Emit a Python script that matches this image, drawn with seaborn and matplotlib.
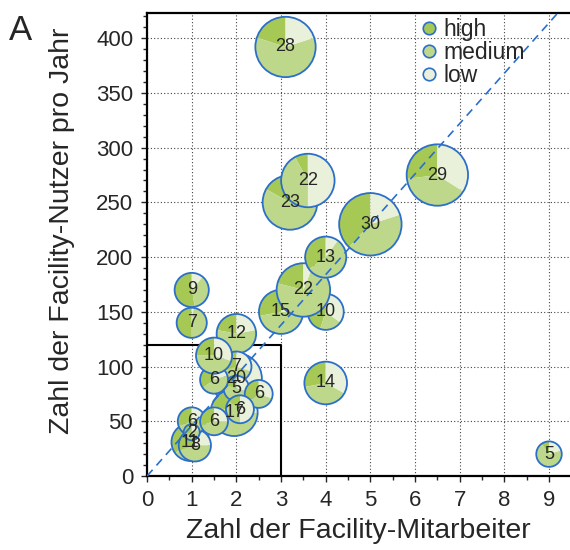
import matplotlib
matplotlib.use("Agg")
import numpy as np
import matplotlib.pyplot as plt
import matplotlib.transforms as mtransforms
from matplotlib.patches import Wedge, Circle
from matplotlib.lines import Line2D
from matplotlib.ticker import MultipleLocator
import seaborn as sns

# one bubble per facility, listed in drawing order (back to front)
staff = [3.1, 3.2, 3.6, 5.0, 6.5, 3.0, 4.0, 3.5, 4.0, 4.0, 1.0, 1.0, 2.0,
         2.0, 1.95, 2.0, 2.0, 2.5, 2.08, 1.5, 1.5, 0.97, 1.07, 1.0, 1.0, 1.5, 9.0]
users = [392, 250, 270, 230, 275, 150, 150, 170, 200, 85, 170, 140, 130,
         89, 58, 100, 80, 75, 61, 88, 110, 31, 28, 50, 40, 50, 20]
counts = [28, 23, 22, 30, 29, 15, 10, 22, 13, 14, 9, 7, 12,
          20, 17, 7, 5, 6, 6, 6, 10, 11, 8, 6, 2, 6, 5]
share_high = [0.20, 0.17, 0.08, 0.38, 0.27, 0.28, 0.45, 0.21, 0.35, 0.28, 0.53, 0.50, 0.22,
               0.20, 0.20, 0.30, 0.20, 0.35, 0.15, 0.35, 0.25, 0.35, 0.30, 0.30, 0.30, 0.30, 0.10]
share_medium = [0.60, 0.80, 0.42, 0.42, 0.39, 0.47, 0.20, 0.73, 0.55, 0.39, 0.36, 0.48, 0.56,
                0.35, 0.55, 0.40, 0.50, 0.35, 0.35, 0.45, 0.45, 0.50, 0.45, 0.50, 0.50, 0.45, 0.70]
share_low = [0.20, 0.03, 0.50, 0.20, 0.34, 0.25, 0.35, 0.06, 0.10, 0.33, 0.11, 0.02, 0.22,
             0.45, 0.25, 0.30, 0.30, 0.30, 0.50, 0.20, 0.30, 0.15, 0.25, 0.20, 0.20, 0.25, 0.20]

levels = ["high", "medium", "low"]
level_colors = ["#a6c955", "#bdd88b", "#e9f1da"]
edge_blue = "#2c6fca"

users_per_staff = 46      # slope of the dashed reference line
box_staff, box_users = 3, 120

sns.set_style("white")
plt.rcParams["font.family"] = ["Liberation Sans", "DejaVu Sans"]

fig = plt.figure(figsize=(5.7, 5.5), dpi=100)
ax = fig.add_axes([0.258, 0.1345, 0.742, 0.8418])
ax.set_xlim(0, 9.47)
ax.set_ylim(0, 423)
ax.set_autoscale_on(False)

ax.xaxis.set_major_locator(MultipleLocator(1))
ax.xaxis.set_minor_locator(MultipleLocator(0.5))
ax.yaxis.set_major_locator(MultipleLocator(50))
ax.yaxis.set_minor_locator(MultipleLocator(10))
ax.grid(True, which="major", color="#444444", lw=0.8, ls=(0, (1, 2)), zorder=0)
ax.tick_params(which="major", direction="out", length=4, width=1, labelsize=16,
               bottom=True, left=True, pad=6)
ax.tick_params(which="minor", direction="out", length=3, width=1, bottom=True, left=True)
for side in ["left", "bottom", "top"]:
    ax.spines[side].set_color("black")
    ax.spines[side].set_linewidth(1.6)
ax.spines["right"].set_visible(False)

# zoom box for the small facilities
ax.plot([0, box_staff, box_staff], [box_users, box_users, 0], color="black", lw=1.5, zorder=1)

# pie bubbles, size ~ number in the bubble
for x, y, n, h, m, l in zip(staff, users, counts, share_high, share_medium, share_low):
    trans = fig.dpi_scale_trans + mtransforms.ScaledTranslation(x, y, ax.transData)
    r = 0.057 * np.sqrt(n)
    start = 90
    for frac, col in zip([h, m, l], level_colors):
        end = start + 360 * frac / (h + m + l)
        ax.add_patch(Wedge((0, 0), r, start, end, facecolor=col, lw=0,
                           transform=trans, zorder=2))
        start = end
    ax.add_patch(Circle((0, 0), r, fill=False, ec=edge_blue, lw=1.3,
                        transform=trans, zorder=2))

for x, y, n in zip(staff, users, counts):
    ax.text(x, y, str(n), ha="center", va="center", fontsize=13, zorder=4)

sns.lineplot(x=[0, 10], y=[0, 10 * users_per_staff], ax=ax, color=edge_blue,
             lw=1.2, linestyle=(0, (5, 3.5)), zorder=3)

handles = [Line2D([], [], marker="o", ls="", ms=9, mfc=c, mec=edge_blue, mew=1.2)
           for c in level_colors]
ax.legend(handles, levels, loc="upper right", bbox_to_anchor=(0.925, 1.02),
          frameon=False, fontsize=16.5, handletextpad=0.05, labelspacing=0.0,
          borderaxespad=0.2, handlelength=1.1)

ax.set_xlabel("Zahl der Facility-Mitarbeiter", fontsize=20.5, labelpad=5)
ax.set_ylabel("Zahl der Facility-Nutzer pro Jahr", fontsize=20.5)
ax.yaxis.set_label_coords(-0.17, 0.53)
fig.text(0.015, 0.927, "A", fontsize=25)

fig.savefig("out.png", dpi=100)
